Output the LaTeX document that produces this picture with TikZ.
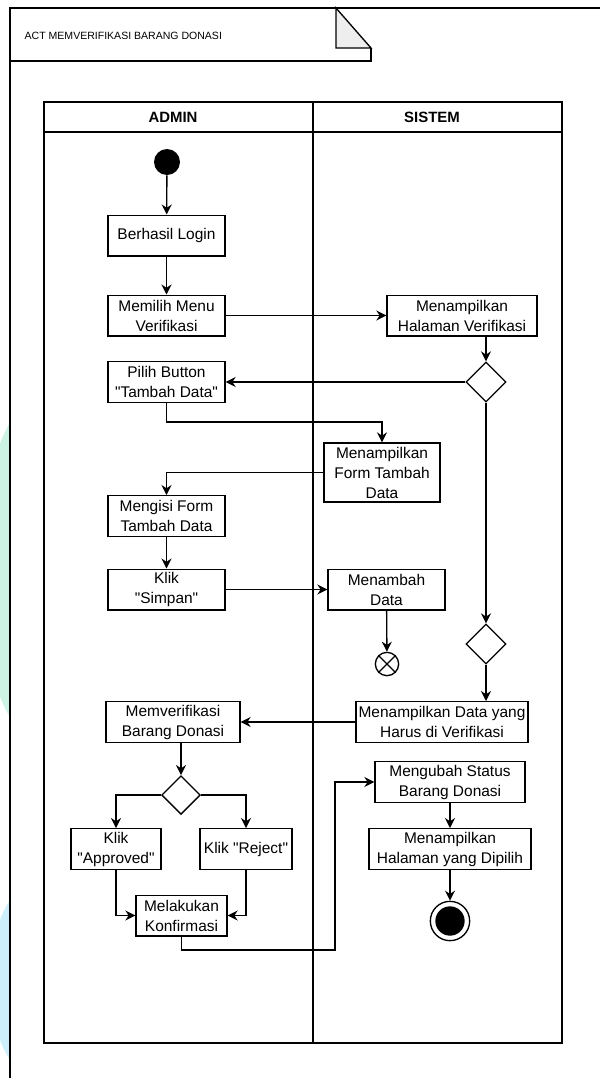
\documentclass[tikz,border=0pt]{standalone}
\usepackage{fontspec}
\setmainfont{Liberation Sans}[Ligatures=TeXOff]
\usetikzlibrary{shapes.geometric, arrows.meta}

\definecolor{mintbg}{HTML}{CDF3E4}
\definecolor{cyanbg}{HTML}{CDEFFC}
\definecolor{foldgray}{HTML}{EEEEEE}

\begin{document}
\begin{tikzpicture}[x=0.75pt, y=-0.75pt,
    every node/.style={font=\fontsize{11.6}{15}\selectfont},
    act/.style={draw, rectangle, line width=1pt, align=center, inner sep=0pt, minimum height=30.5pt},
    dec/.style={draw, diamond, line width=1pt, minimum width=30pt, minimum height=30pt, inner sep=0pt},
    flow/.style={-{Stealth[length=7.5pt,width=7.5pt]}, line width=1pt},
    lane/.style={draw, line width=1.1pt}]
    \useasboundingbox (0,0) rectangle (600,1078);

    \begin{scope}
        \clip (0,0) rectangle (9,1078);
        \fill[mintbg] (40,570) ellipse (60 and 170);
        \fill[cyanbg] (40,980) ellipse (50 and 100);
    \end{scope}

    \draw[line width=1.5pt] (600,8) -- (10,8) -- (10,1078);
    \draw[line width=0.8pt] (10,61) -- (371,61) -- (371,48);
    \filldraw[fill=foldgray, line width=1pt] (336,8) -- (371,48) -- (336,48) -- cycle;
    \node[anchor=west, font=\fontsize{7.9}{9}\selectfont] (title) at (20,36) {ACT MEMVERIFIKASI BARANG DONASI};

    \draw[lane] (44,102) rectangle (562,1043);
    \draw[lane] (44,132) -- (562,132);
    \draw[lane] (313,102) -- (313,1043);
    \node[font=\fontsize{11.2}{13}\selectfont\bfseries] (hadmin) at (173,117) {ADMIN};
    \node[font=\fontsize{11.2}{13}\selectfont\bfseries] (hsistem) at (432,117) {SISTEM};

    \node[circle, fill=black, minimum size=19.5pt, inner sep=0pt] (start) at (167,162) {};
    \node[act, minimum width=87.75pt] (login) at (166.5,235.5) {Berhasil Login};
    \node[act, minimum width=87.75pt] (menu) at (166.5,315.5) {Memilih Menu\\Verifikasi};
    \node[act, minimum width=112.5pt] (halaman) at (462,315.5) {Menampilkan\\Halaman Verifikasi};
    \node[dec] (dec1) at (486,382) {};
    \node[act, minimum width=87.75pt] (pilih) at (166.5,382) {Pilih Button\\"Tambah Data"};
    \node[act, minimum width=87pt, minimum height=44.25pt] (form) at (382,472.5) {Menampilkan\\Form Tambah\\Data};
    \node[act, minimum width=87.75pt] (isi) at (166.5,516) {Mengisi Form\\Tambah Data};
    \node[act, minimum width=87.75pt] (simpan) at (166.5,589.5) {Klik\\"Simpan"};
    \node[act, minimum width=87.75pt] (tambah) at (386.5,589.5) {Menambah\\Data};
    \node[circle, draw, line width=1pt, minimum size=17.5pt, inner sep=0pt] (flowend) at (387,664) {};
    \node[dec] (dec2) at (486,644) {};
    \node[act, minimum width=129pt] (tampil) at (442,722) {Menampilkan Data yang\\Harus di Verifikasi};
    \node[act, minimum width=100.5pt] (verif) at (173,722) {Memverifikasi\\Barang Donasi};
    \node[dec, minimum width=29pt, minimum height=29pt] (dec3) at (181,795) {};
    \node[act, minimum width=67.5pt] (approve) at (116,849) {Klik\\"Approved"};
    \node[act, minimum width=69pt] (reject) at (246,849) {Klik "Reject"};
    \node[act, minimum width=68.25pt] (konfirm) at (181.5,915.5) {Melakukan\\Konfirmasi};
    \node[act, minimum width=112.5pt] (ubah) at (450,782) {Mengubah Status\\Barang Donasi};
    \node[act, minimum width=121.5pt] (hasil) at (450,849) {Menampilkan\\Halaman yang Dipilih};
    \node[circle, draw, line width=1pt, minimum size=29.5pt, inner sep=0pt] (final) at (450,921) {};
    \fill (final.center) circle (11pt);
    \coordinate (k2) at (335,782);

    \draw[line width=1pt] (flowend.north west) -- (flowend.south east) (flowend.north east) -- (flowend.south west);

    \draw[flow] (start) -- (login);
    \draw[flow] (login) -- (menu);
    \draw[flow] (menu) -- (halaman);
    \draw[flow] (halaman.south -| dec1.north) -- (dec1.north);
    \draw[flow] (dec1.west) -- (pilih.east);
    \draw[flow] (pilih.south) -- ++(0,19) -| (form.north);
    \draw[flow] (form.west) -| (isi.north);
    \draw[flow] (isi) -- (simpan);
    \draw[flow] (simpan) -- (tambah);
    \draw[flow] (tambah) -- (flowend);
    \draw[flow] (dec1.south) -- (dec2.north);
    \draw[flow] (dec2.south) -- (dec2.south |- tampil.north);
    \draw[flow] (tampil.west) -- (verif.east);
    \draw[flow] (verif.south -| dec3.north) -- (dec3.north);
    \draw[flow] (dec3.west) -| (approve.north);
    \draw[flow] (dec3.east) -| (reject.north);
    \draw[flow] (approve.south) |- (konfirm.west);
    \draw[flow] (reject.south) |- (konfirm.east);
    \draw[flow] (konfirm.south) -- ++(0,13.5) -| (k2) -- (ubah.west);
    \draw[flow] (ubah) -- (hasil);
    \draw[flow] (hasil) -- (final);
\end{tikzpicture}
\end{document}
